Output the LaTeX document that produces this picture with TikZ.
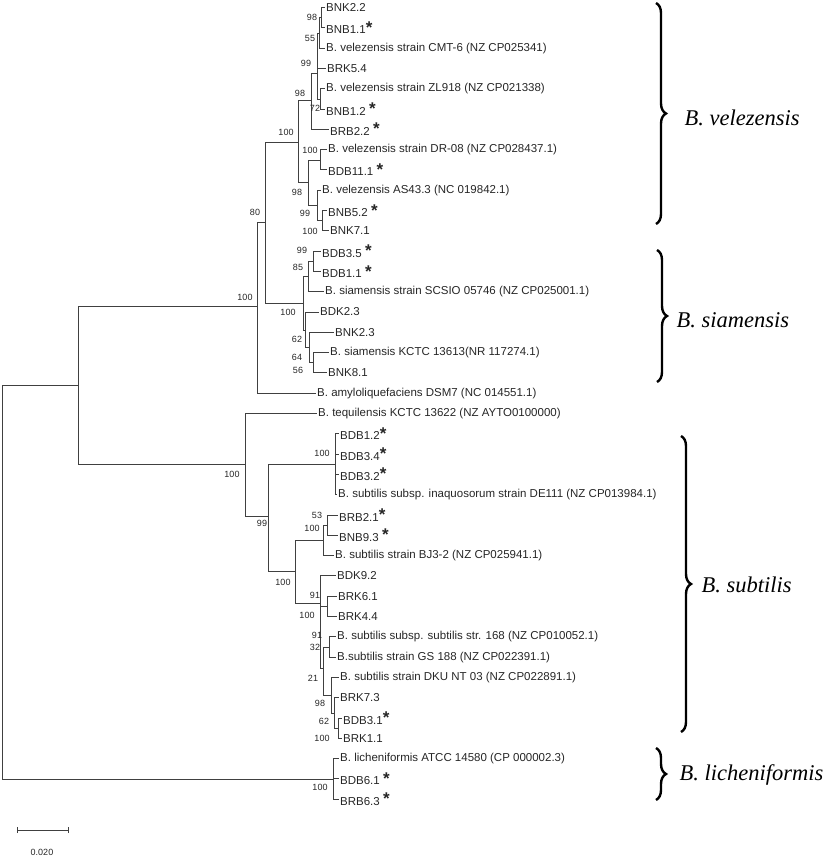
\documentclass[tikz,border=0pt]{standalone}
\usepackage{fontspec}
\setmainfont{Liberation Sans}
\newfontfamily\cladefont{Liberation Serif}
\usetikzlibrary{decorations.pathreplacing}

\newcommand{\isoc}{\raisebox{0.5pt}{\fontsize{17}{17}\selectfont\bfseries *}}
\newcommand{\iso}{\ \isoc}

\begin{document}
\begin{tikzpicture}[x=1pt, y=-1pt,
  branch/.style={draw=black!75, line width=0.9pt},
  leaf/.style={anchor=west, inner sep=1pt, text=black!85,
               font=\fontsize{11.5}{12}\selectfont},
  bs/.style={inner sep=0pt, text=black!85, font=\fontsize{9}{9}\selectfont},
  clade/.style={draw, line width=2.4pt, decorate,
                decoration={brace, amplitude=10pt}},
  cladename/.style={anchor=west, font=\cladefont\itshape\fontsize{22.5}{23}\selectfont}]

  \useasboundingbox (0,0) rectangle (827,856);

  % leaves
  \node[leaf] (bnk22)  at (325,7.5)   {BNK2.2};
  \node[leaf] (bnb11)  at (325,27.8)  {BNB1.1\isoc};
  \node[leaf] (cmt6)   at (325,48.1)  {B. velezensis strain CMT-6 (NZ CP025341)};
  \node[leaf] (brk54)  at (326,68.4)  {BRK5.4};
  \node[leaf] (zl918)  at (325,88.7)  {B. velezensis strain ZL918 (NZ CP021338)};
  \node[leaf] (bnb12)  at (325,109)   {BNB1.2\iso};
  \node[leaf] (brb22)  at (329,129.3) {BRB2.2\iso};
  \node[leaf] (dr08)   at (327,149.6) {B. velezensis strain DR-08 (NZ CP028437.1)};
  \node[leaf] (bdb111) at (327,169.9) {BDB11.1\iso};
  \node[leaf] (as433)  at (321,190.2) {B. velezensis AS43.3 (NC 019842.1)};
  \node[leaf] (bnb52)  at (327,210.5) {BNB5.2\iso};
  \node[leaf] (bnk71)  at (329,230.8) {BNK7.1};
  \node[leaf] (bdb35)  at (321,251.1) {BDB3.5\iso};
  \node[leaf] (bdb11)  at (321,271.4) {BDB1.1\iso};
  \node[leaf] (scsio)  at (324,291.7) {B. siamensis strain SCSIO 05746 (NZ CP025001.1)};
  \node[leaf] (bdk23)  at (319,312)   {BDK2.3};
  \node[leaf] (bnk23)  at (334,332.3) {BNK2.3};
  \node[leaf] (kctc)   at (329,352.6) {B. siamensis KCTC 13613(NR 117274.1)};
  \node[leaf] (bnk81)  at (327,372.9) {BNK8.1};
  \node[leaf] (dsm7)   at (316,393.2) {B. amyloliquefaciens DSM7 (NC 014551.1)};
  \node[leaf] (tequ)   at (317,413.5) {B. tequilensis KCTC 13622 (NZ AYTO0100000)};
  \node[leaf] (bdb12)  at (339,433.8) {BDB1.2\isoc};
  \node[leaf] (bdb34)  at (339,454.1) {BDB3.4\isoc};
  \node[leaf] (bdb32)  at (339,474.4) {BDB3.2\isoc};
  \node[leaf] (de111)  at (337,494.7) {B. subtilis subsp. inaquosorum strain DE111 (NZ CP013984.1)};
  \node[leaf] (brb21)  at (338,515)   {BRB2.1\isoc};
  \node[leaf] (bnb93)  at (338,535.3) {BNB9.3\iso};
  \node[leaf] (bj32)   at (334,555.6) {B. subtilis strain BJ3-2 (NZ CP025941.1)};
  \node[leaf] (bdk92)  at (336,575.9) {BDK9.2};
  \node[leaf] (brk61)  at (337,596.2) {BRK6.1};
  \node[leaf] (brk44)  at (337,616.5) {BRK4.4};
  \node[leaf] (str168) at (336,636.8) {B. subtilis subsp. subtilis str. 168 (NZ CP010052.1)};
  \node[leaf] (gs188)  at (336,657.1) {B.subtilis strain GS 188 (NZ CP022391.1)};
  \node[leaf] (dku)    at (339,677.4) {B. subtilis strain DKU NT 03 (NZ CP022891.1)};
  \node[leaf] (brk73)  at (339,697.7) {BRK7.3};
  \node[leaf] (bdb31)  at (342,718)   {BDB3.1\isoc};
  \node[leaf] (brk11)  at (342,738.3) {BRK1.1};
  \node[leaf] (atcc)   at (339,758.6) {B. licheniformis ATCC 14580 (CP 000002.3)};
  \node[leaf] (bdb61)  at (339,778.9) {BDB6.1\iso};
  \node[leaf] (brb63)  at (339,799.2) {BRB6.3\iso};

  % internal nodes
  \coordinate (root) at (2,581);
  \coordinate (A)    at (78,385);
  \coordinate (B)    at (257,306);
  \coordinate (E)    at (265,222);
  \coordinate (V)    at (298,142);
  \coordinate (Vt)   at (311,100);
  \coordinate (Vt1)  at (317,73);
  \coordinate (G1)   at (319,33);
  \coordinate (G0)   at (321,17.6);
  \coordinate (G2)   at (320,99);
  \coordinate (Vb)   at (308,182);
  \coordinate (Vb1)  at (320,160);
  \coordinate (Vb2)  at (317,205);
  \coordinate (Vb3)  at (322,220.6);
  \coordinate (S)    at (303,303);
  \coordinate (S1)   at (308,276.5);
  \coordinate (S1a)  at (313,261.2);
  \coordinate (S2)   at (305,330);
  \coordinate (S2a)  at (309,347.5);
  \coordinate (S2b)  at (313,362.8);
  \coordinate (C)    at (245,464);
  \coordinate (C2)   at (268,516);
  \coordinate (D1)   at (335,464);
  \coordinate (D2)   at (295,571);
  \coordinate (D3)   at (323,540);
  \coordinate (D3a)  at (327,525);
  \coordinate (D4)   at (320,603);
  \coordinate (N91a) at (327,606.4);
  \coordinate (N32)  at (323,668);
  \coordinate (N91b) at (329,647);
  \coordinate (N21)  at (331,695);
  \coordinate (N98)  at (334,713);
  \coordinate (N62)  at (338,728.2);
  \coordinate (L)    at (333,779);

  % branches
  \draw[branch] (root) |- (A);
  \draw[branch] (root) |- (L);
  \draw[branch] (A) |- (B);
  \draw[branch] (A) |- (C);
  \draw[branch] (B) |- (E);
  \draw[branch] (B) |- (dsm7.west);
  \draw[branch] (E) |- (V);
  \draw[branch] (E) |- (S);
  \draw[branch] (V) |- (Vt);
  \draw[branch] (V) |- (Vb);
  \draw[branch] (Vt) |- (Vt1);
  \draw[branch] (Vt) |- (brb22.west);
  \draw[branch] (Vt1) |- (G1);
  \draw[branch] (Vt1) |- (brk54.west);
  \draw[branch] (Vt1) |- (G2);
  \draw[branch] (G1) |- (G0);
  \draw[branch] (G1) |- (cmt6.west);
  \draw[branch] (G0) |- (bnk22.west);
  \draw[branch] (G0) |- (bnb11.west);
  \draw[branch] (G2) |- (zl918.west);
  \draw[branch] (G2) |- (bnb12.west);
  \draw[branch] (Vb) |- (Vb1);
  \draw[branch] (Vb) |- (Vb2);
  \draw[branch] (Vb1) |- (dr08.west);
  \draw[branch] (Vb1) |- (bdb111.west);
  \draw[branch] (Vb2) |- (as433.west);
  \draw[branch] (Vb2) |- (Vb3);
  \draw[branch] (Vb3) |- (bnb52.west);
  \draw[branch] (Vb3) |- (bnk71.west);
  \draw[branch] (S) |- (S1);
  \draw[branch] (S) |- (S2);
  \draw[branch] (S1) |- (S1a);
  \draw[branch] (S1) |- (scsio.west);
  \draw[branch] (S1a) |- (bdb35.west);
  \draw[branch] (S1a) |- (bdb11.west);
  \draw[branch] (S2) |- (bdk23.west);
  \draw[branch] (S2) |- (S2a);
  \draw[branch] (S2a) |- (bnk23.west);
  \draw[branch] (S2a) |- (S2b);
  \draw[branch] (S2b) |- (kctc.west);
  \draw[branch] (S2b) |- (bnk81.west);
  \draw[branch] (C) |- (tequ.west);
  \draw[branch] (C) |- (C2);
  \draw[branch] (C2) |- (D1);
  \draw[branch] (C2) |- (D2);
  \draw[branch] (D1) |- (bdb12.west);
  \draw[branch] (D1) |- (bdb34.west);
  \draw[branch] (D1) |- (bdb32.west);
  \draw[branch] (D1) |- (de111.west);
  \draw[branch] (D2) |- (D3);
  \draw[branch] (D2) |- (D4);
  \draw[branch] (D3) |- (D3a);
  \draw[branch] (D3) |- (bj32.west);
  \draw[branch] (D3a) |- (brb21.west);
  \draw[branch] (D3a) |- (bnb93.west);
  \draw[branch] (D4) |- (bdk92.west);
  \draw[branch] (D4) |- (N91a);
  \draw[branch] (D4) |- (N32);
  \draw[branch] (N91a) |- (brk61.west);
  \draw[branch] (N91a) |- (brk44.west);
  \draw[branch] (N32) |- (N91b);
  \draw[branch] (N32) |- (N21);
  \draw[branch] (N91b) |- (str168.west);
  \draw[branch] (N91b) |- (gs188.west);
  \draw[branch] (N21) |- (dku.west);
  \draw[branch] (N21) |- (N98);
  \draw[branch] (N98) |- (brk73.west);
  \draw[branch] (N98) |- (N62);
  \draw[branch] (N62) |- (bdb31.west);
  \draw[branch] (N62) |- (brk11.west);
  \draw[branch] (L) |- (atcc.west);
  \draw[branch] (L) |- (bdb61.west);
  \draw[branch] (L) |- (brb63.west);

  % bootstrap values
  \node[bs] (bsG0)   at (312,17)  {98};
  \node[bs] (bsG1)   at (310,38)  {55};
  \node[bs] (bsVt1)  at (306,63)  {99};
  \node[bs] (bsVt)   at (300,93)  {98};
  \node[bs] (bsG2)   at (315,108) {72};
  \node[bs] (bsV)    at (286,132) {100};
  \node[bs] (bsVb1)  at (310,150) {100};
  \node[bs] (bsVb)   at (297,192) {98};
  \node[bs] (bsE)    at (255,212) {80};
  \node[bs] (bsVb2)  at (305,213) {99};
  \node[bs] (bsVb3)  at (310,231) {100};
  \node[bs] (bsS1a)  at (302,250) {99};
  \node[bs] (bsS1)   at (298,267) {85};
  \node[bs] (bsB)    at (245,297) {100};
  \node[bs] (bsS)    at (288,312) {100};
  \node[bs] (bsS2a)  at (297,339) {62};
  \node[bs] (bsS2b)  at (297,357) {64};
  \node[bs] (bsBNK)  at (298,370) {56};
  \node[bs] (bsC)    at (232,474) {100};
  \node[bs] (bsD1)   at (322,453) {100};
  \node[bs] (bsC2)   at (262,523) {99};
  \node[bs] (bsD3a)  at (317,515) {53};
  \node[bs] (bsD3)   at (312,528) {100};
  \node[bs] (bsD2)   at (283,582) {100};
  \node[bs] (bsN91a) at (315,595) {91};
  \node[bs] (bsD4)   at (307,615) {100};
  \node[bs] (bsN91b) at (317,635) {91};
  \node[bs] (bsN32)  at (315,647) {32};
  \node[bs] (bsN21)  at (313,678) {21};
  \node[bs] (bsN98)  at (320,703) {98};
  \node[bs] (bsN62)  at (324,721) {62};
  \node[bs] (bsBRK)  at (322,738) {100};
  \node[bs] (bsL)    at (320,787) {100};

  % clades
  \draw[clade] (656,3) -- (656,224);
  \node[cladename] (vel) at (681,118) {B. velezensis};
  \draw[clade] (657,250) -- (657,382);
  \node[cladename] (sia) at (673,320) {B. siamensis};
  \draw[clade] (681,436) -- (681,732);
  \node[cladename] (sub) at (698,585) {B. subtilis};
  \draw[clade] (656,748) -- (656,800);
  \node[cladename] (lic) at (676,775) {B. licheniformis};

  % scale bar
  \coordinate (sb1) at (17,830);
  \coordinate (sb2) at (68,830);
  \draw[branch] (sb1) -- (sb2);
  \draw[branch] ([yshift=-3pt]sb1) -- ([yshift=3pt]sb1);
  \draw[branch] ([yshift=-3pt]sb2) -- ([yshift=3pt]sb2);
  \node[bs] (sblab) at (42,852) {0.020};

\end{tikzpicture}
\end{document}
